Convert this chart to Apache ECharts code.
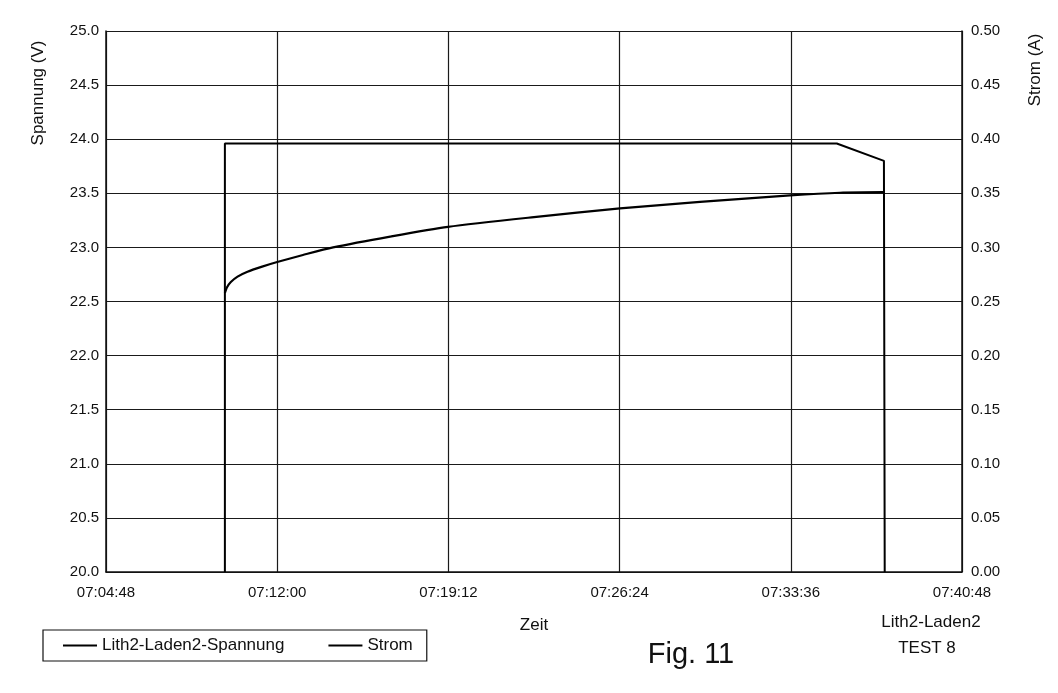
<!DOCTYPE html>
<html>
<head>
<meta charset="utf-8">
<script src="https://cdn.jsdelivr.net/npm/echarts@6/dist/echarts.min.js"></script>
<style>
  html, body { margin: 0; padding: 0; background: #fff; }
  #chart { width: 1058px; height: 693px; }
</style>
</head>
<body>
<div id="chart"></div>
<script>
// time stamps (hh:mm:ss) and values
const voltageTimes = [
  '07:09:48', '07:09:53', '07:10:03', '07:10:20', '07:10:45', '07:11:20',
  '07:12:00', '07:13:05', '07:14:21', '07:16:45', '07:19:11', '07:22:48',
  '07:26:25', '07:29:47', '07:33:34', '07:35:40', '07:37:29',
];
const voltageValues = [
  22.58, 22.63, 22.68, 22.73, 22.775, 22.82,
  22.865, 22.93, 23.00, 23.10, 23.19, 23.28,
  23.36, 23.42, 23.48, 23.505, 23.51,
];

const currentTimes = ['07:09:48', '07:09:48', '07:35:32', '07:37:31', '07:37:33'];
const currentValues = [0, 0.396, 0.396, 0.380, 0];

const xStart = '07:04:48';
const xEnd = '07:40:48';
const xStep = 432; // 7:12 between ticks

const seriesNames = ['Lith2-Laden2-Spannung', 'Strom'];

const toSec = (t) => {
  const [h, m, s] = t.split(':').map(Number);
  return h * 3600 + m * 60 + s;
};
const pad = (n) => String(n).padStart(2, '0');
const fmtTime = (v) =>
  pad(Math.floor(v / 3600)) + ':' + pad(Math.floor((v % 3600) / 60)) + ':' + pad(v % 60);

const font = 'Liberation Sans, Arial, sans-serif';
const ink = '#111';

const chart = echarts.init(document.getElementById('chart'));

const option = {
  backgroundColor: '#fff',
  animation: false,
  textStyle: { fontFamily: font, color: ink },
  grid: { left: 106, right: 96, top: 31, bottom: 121 },
  xAxis: {
    type: 'value',
    min: toSec(xStart),
    max: toSec(xEnd),
    interval: xStep,
    name: 'Zeit',
    nameLocation: 'middle',
    nameGap: 45,
    nameTextStyle: { fontSize: 17, color: ink },
    axisLine: { lineStyle: { color: ink, width: 1.5 } },
    axisTick: { show: false },
    axisLabel: { fontSize: 15, color: ink, margin: 13, formatter: fmtTime },
    splitLine: { lineStyle: { color: '#1a1a1a', width: 1.2 } },
  },
  yAxis: [
    {
      type: 'value',
      min: 20,
      max: 25,
      interval: 0.5,
      position: 'left',
      axisLine: { show: true, lineStyle: { color: ink, width: 1.5 } },
      axisTick: { show: false },
      axisLabel: { fontSize: 15, color: ink, margin: 7, formatter: (v) => v.toFixed(1) },
      splitLine: { lineStyle: { color: '#1a1a1a', width: 1.2 } },
    },
    {
      type: 'value',
      min: 0,
      max: 0.5,
      interval: 0.05,
      position: 'right',
      axisLine: { show: true, lineStyle: { color: ink, width: 1.5 } },
      axisTick: { show: false },
      axisLabel: { fontSize: 15, color: ink, margin: 9, formatter: (v) => v.toFixed(2) },
      splitLine: { show: false },
    },
  ],
  legend: {
    left: 43,
    top: 630,
    orient: 'horizontal',
    padding: [7, 14, 7, 20],
    itemGap: 44,
    itemWidth: 34,
    itemHeight: 2,
    borderColor: ink,
    borderWidth: 1.2,
    textStyle: { fontSize: 17, color: ink },
    data: seriesNames.map((n) => ({ name: n, icon: 'rect' })),
  },
  series: [
    {
      name: seriesNames[0],
      type: 'line',
      yAxisIndex: 0,
      smooth: 0.25,
      symbol: 'none',
      lineStyle: { color: '#000', width: 2.2 },
      itemStyle: { color: '#000' },
      data: voltageTimes.map((t, i) => [toSec(t), voltageValues[i]]),
    },
    {
      name: seriesNames[1],
      type: 'line',
      yAxisIndex: 1,
      symbol: 'none',
      lineStyle: { color: '#000', width: 2 },
      itemStyle: { color: '#000' },
      data: currentTimes.map((t, i) => [toSec(t), currentValues[i]]),
    },
  ],
  graphic: [
    {
      type: 'text',
      rotation: Math.PI / 2,
      x: 38, y: 93,
      style: { text: 'Spannung (V)', font: '17px ' + font, fill: ink, textAlign: 'center', textVerticalAlign: 'middle' },
    },
    {
      type: 'text',
      rotation: Math.PI / 2,
      x: 1035, y: 70,
      style: { text: 'Strom (A)', font: '17px ' + font, fill: ink, textAlign: 'center', textVerticalAlign: 'middle' },
    },
    {
      type: 'text',
      x: 931, y: 622,
      style: { text: 'Lith2-Laden2', font: '17px ' + font, fill: ink, textAlign: 'center', textVerticalAlign: 'middle' },
    },
    {
      type: 'text',
      x: 927, y: 648,
      style: { text: 'TEST 8', font: '17px ' + font, fill: ink, textAlign: 'center', textVerticalAlign: 'middle' },
    },
    {
      type: 'text',
      x: 691, y: 655,
      style: { text: 'Fig. 11', font: '29px ' + font, fill: ink, textAlign: 'center', textVerticalAlign: 'middle' },
    },
  ],
};

chart.setOption(option);
</script>
</body>
</html>
